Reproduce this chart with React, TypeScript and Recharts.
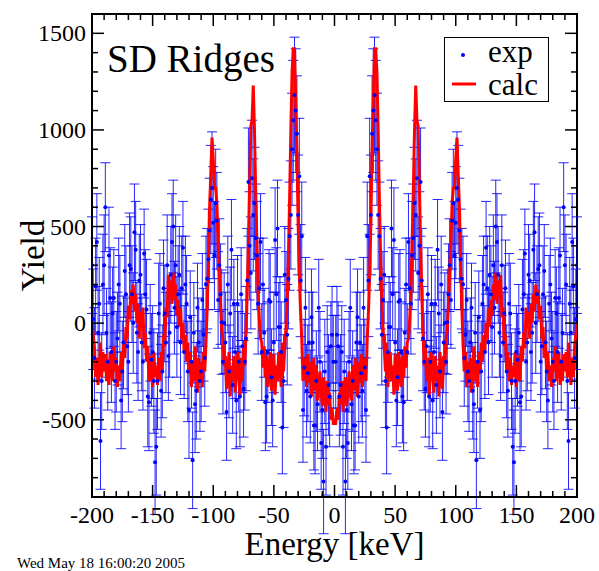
import {
  ComposedChart,
  Scatter,
  Line,
  XAxis,
  YAxis,
  ErrorBar,
  Legend,
  ReferenceArea,
} from 'recharts'

// the spectrum is mirror-symmetric around 0 keV: values are read for 1..200 keV
const ENERGY = [
  1, 2, 3, 4, 5, 6, 7, 8, 9, 10, 11, 12, 13, 14, 15, 16, 17, 18, 19, 20,
  21, 22, 23, 24, 25, 26, 27, 28, 29, 30, 31, 32, 33, 34, 35, 36, 37, 38, 39, 40,
  41, 42, 43, 44, 45, 46, 47, 48, 49, 50, 51, 52, 53, 54, 55, 56, 57, 58, 59, 60,
  61, 62, 63, 64, 65, 66, 67, 68, 69, 70, 71, 72, 73, 74, 75, 76, 77, 78, 79, 80,
  81, 82, 83, 84, 85, 86, 87, 88, 89, 90, 91, 92, 93, 94, 95, 96, 97, 98, 99, 100,
  101, 102, 103, 104, 105, 106, 107, 108, 109, 110, 111, 112, 113, 114, 115, 116, 117, 118, 119, 120,
  121, 122, 123, 124, 125, 126, 127, 128, 129, 130, 131, 132, 133, 134, 135, 136, 137, 138, 139, 140,
  141, 142, 143, 144, 145, 146, 147, 148, 149, 150, 151, 152, 153, 154, 155, 156, 157, 158, 159, 160,
  161, 162, 163, 164, 165, 166, 167, 168, 169, 170, 171, 172, 173, 174, 175, 176, 177, 178, 179, 180,
  181, 182, 183, 184, 185, 186, 187, 188, 189, 190, 191, 192, 193, 194, 195, 196, 197, 198, 199, 200,
]

const EXP = [
  -200, -60, -120, -380, -320, -150, -640, -250, -820, -450,
  -620, -200, 80, -420, -300, -530, -530, -100, 30, -380,
  -100, -260, -350, 80, -230, -450, 450, 220, 760, 560,
  980, 1100, 1180, 1050, 900, 560, 450, 230, -60, 120,
  250, -300, -540, -150, -20, -20, 490, 150, 430, -100,
  -400, -280, 110, 120, -150, -380, -410, -50, 200, -150,
  420, 180, 100, 350, 440, 620, 560, 750, 260, 400,
  730, 220, -80, -200, -340, -120, 150, -380, -200, 100,
  -400, -150, 100, -320, 380, 50, -250, 200, -460, -100,
  0, -200, 5, 150, 300, 120, 530, 620, 350, 520,
  700, 640, 480, 330, 230, 200, -180, -60, 120, -250,
  -300, -100, 80, -350, -420, -50, -710, -200, 30, -450,
  -250, 100, 200, -150, 390, 180, -100, 250, 150, -20,
  300, 80, 500, 420, 250, -50, -170, 300, -100, 50,
  180, -250, -350, 100, 50, -300, -640, -720, -300, -150,
  -190, -50, -410, -380, 70, 150, 360, -200, -100, 250,
  220, -150, -50, 380, 470, 0, 150, 280, 300, -200,
  -120, 150, 270, -100, -250, -400, 100, 200, -80, -200,
  -300, 130, 50, -150, 130, 350, -200, -50, 600, 300,
  200, -300, -610, 100, -50, 420, 190, -180, 20, 300,
]

const EXP_ERR = [
  240, 250, 230, 260, 260, 240, 250, 270, 270, 250,
  240, 260, 250, 240, 260, 250, 230, 260, 250, 240,
  260, 250, 240, 260, 250, 270, 280, 290, 300, 310,
  300, 320, 300, 310, 290, 280, 280, 260, 260, 250,
  250, 240, 240, 260, 260, 230, 250, 240, 270, 260,
  240, 250, 250, 260, 260, 240, 250, 230, 240, 250,
  250, 260, 260, 280, 280, 290, 290, 300, 290, 280,
  280, 270, 270, 250, 250, 240, 240, 260, 260, 250,
  250, 240, 230, 250, 260, 240, 240, 250, 250, 260,
  260, 270, 270, 260, 240, 250, 250, 280, 280, 290,
  290, 280, 270, 260, 260, 250, 250, 240, 240, 260,
  260, 230, 230, 250, 250, 260, 250, 240, 240, 250,
  260, 250, 250, 240, 240, 270, 270, 250, 250, 260,
  260, 240, 240, 250, 250, 230, 230, 260, 260, 250,
  250, 240, 240, 260, 260, 250, 250, 270, 270, 240,
  240, 250, 250, 260, 260, 230, 230, 250, 250, 260,
  240, 250, 260, 250, 250, 260, 250, 270, 270, 260,
  250, 250, 240, 240, 260, 250, 250, 240, 240, 260,
  250, 250, 240, 260, 260, 250, 250, 230, 230, 260,
  260, 250, 250, 240, 240, 250, 250, 260, 260, 250,
]

const CALC = [
  -520, -440, -500, -360, -420, -300, -460, -330, -280, -430,
  -360, -250, -330, -400, -220, -350, -180, -300, -380, -200,
  -310, -160, -330, -180, -220, -300, -80, 60, 250, 520,
  900, 1150, 1420, 1420, 1300, 1000, 650, 350, 120, -20,
  -120, -250, -100, -330, -200, -150, -300, -220, -370, -160,
  -280, -350, -150, -260, -330, -170, -280, -120, -230, -100,
  -80, 20, 150, 420, 680, 1000, 1230, 1050, 1020, 700,
  420, 150, -50, -220, -120, -300, -180, -380, -250, -150,
  -280, -360, -170, -300, -220, -380, -150, -260, -340, -170,
  -220, -80, -40, 100, 260, 420, 620, 700, 700, 850,
  960, 780, 600, 300, 80, -100, -250, -150, -330, -200,
  -300, -180, -360, -240, -120, -300, -200, -330, -150, -260,
  -100, -200, -60, -150, 0, -80, 80, -20, 120, 40,
  200, 120, 260, 100, 220, 150, 250, 30, 80, -120,
  -60, -250, -150, -300, -180, -320, -220, -280, -150, -330,
  -230, -170, -300, -120, -200, -50, -130, 80, -20, 60,
  -80, 100, 0, 150, 60, 200, 100, 170, 20, 90,
  -80, -20, -180, -100, -260, -150, -300, -220, -330, -180,
  -250, -120, -300, -200, -150, -320, -200, -300, -160, -250,
  -150, -280, -100, -250, -320, -180, -280, -120, -60, 0,
]

const X_TICKS = [
  -200, -190, -180, -170, -160, -150, -140, -130, -120, -110, -100, -90, -80, -70, -60,
  -50, -40, -30, -20, -10, 0, 10, 20, 30, 40, 50, 60, 70, 80, 90, 100, 110, 120, 130,
  140, 150, 160, 170, 180, 190, 200,
]
const Y_TICKS = [
  -900, -800, -700, -600, -500, -400, -300, -200, -100, 0, 100, 200, 300, 400, 500, 600,
  700, 800, 900, 1000, 1100, 1200, 1300, 1400, 1500, 1600,
]

const W = 599
const H = 571
const M = { top: 14, right: 22, bottom: 0, left: 0 }
const Y_AXIS_W = 92
const X_AXIS_H = 74
const PLOT_LEFT = M.left + Y_AXIS_W
const PLOT_RIGHT = W - M.right
const PLOT_TOP = M.top
const PLOT_BOTTOM = H - M.bottom - X_AXIS_H

const FONT = "'Liberation Serif', 'Times New Roman', serif"
const BLUE = '#0000ff'
const RED = '#ff0000'

const left = ENERGY.map((e, i) => ({
  x: -e,
  exp: EXP[i],
  err: EXP_ERR[i],
  calc: CALC[i],
})).reverse()
const right = ENERGY.map((e, i) => ({
  x: e,
  exp: EXP[i],
  err: EXP_ERR[i],
  calc: CALC[i],
}))
const data = [...left, ...right]

function XTick(props: any) {
  const { x, payload } = props
  const v = payload.value
  const major = v % 50 === 0
  const len = major ? 12 : 6
  return (
    <g>
      <line x1={x} x2={x} y1={PLOT_BOTTOM} y2={PLOT_BOTTOM - len} stroke='#000' strokeWidth={1.5} />
      <line x1={x} x2={x} y1={PLOT_TOP} y2={PLOT_TOP + len} stroke='#000' strokeWidth={1.5} />
      {major && (
        <text x={x} y={PLOT_BOTTOM + 26} textAnchor='middle' fontSize={24} style={{ fontFamily: FONT }} fill='#000'>
          {v}
        </text>
      )}
    </g>
  )
}

function YTick(props: any) {
  const { y, payload } = props
  const v = payload.value
  const major = v % 500 === 0
  const len = major ? 12 : 6
  return (
    <g>
      <line x1={PLOT_LEFT} x2={PLOT_LEFT + len} y1={y} y2={y} stroke='#000' strokeWidth={1.5} />
      <line x1={PLOT_RIGHT} x2={PLOT_RIGHT - len} y1={y} y2={y} stroke='#000' strokeWidth={1.5} />
      {major && (
        <text x={PLOT_LEFT - 6} y={y + 8} textAnchor='end' fontSize={24} style={{ fontFamily: FONT }} fill='#000'>
          {v}
        </text>
      )}
    </g>
  )
}

function LegendBox() {
  return (
    <svg width={106} height={66} style={{ display: 'block', overflow: 'visible' }}>
      <rect x={0.5} y={0.5} width={104} height={64} fill='#fff' stroke='#000' strokeWidth={1} />
      <circle cx={19} cy={18} r={2} fill={BLUE} />
      <text x={44} y={25} fontSize={31} style={{ fontFamily: FONT }} fill='#000'>exp</text>
      <line x1={8} x2={32} y1={47} y2={47} stroke={RED} strokeWidth={3} />
      <text x={44} y={58} fontSize={31} style={{ fontFamily: FONT }} fill='#000'>calc</text>
    </svg>
  )
}

export default function App() {
  return (
    <div style={{ position: 'absolute', left: 0, top: 0, width: W, height: H, background: '#fff', fontFamily: FONT }}>
      <ComposedChart width={W} height={H} data={data} margin={M}>
        <XAxis
          dataKey='x'
          type='number'
          domain={[-200, 200]}
          ticks={X_TICKS}
          interval={0}
          allowDataOverflow
          height={X_AXIS_H}
          tickLine={false}
          axisLine={{ stroke: '#000', strokeWidth: 2 }}
          tick={<XTick />}
          label={{
            value: 'Energy [keV]',
            position: 'insideBottom',
            offset: 16,
            style: { fontSize: 33, fontFamily: FONT, fill: '#000' },
          }}
        />
        <YAxis
          type='number'
          domain={[-900, 1600]}
          ticks={Y_TICKS}
          interval={0}
          allowDataOverflow
          width={Y_AXIS_W}
          tickLine={false}
          axisLine={{ stroke: '#000', strokeWidth: 2 }}
          tick={<YTick />}
          label={{
            value: 'Yield',
            angle: -90,
            position: 'insideLeft',
            offset: 32,
            style: { fontSize: 33, fontFamily: FONT, fill: '#000', textAnchor: 'middle' },
          }}
        />
        <ReferenceArea
          x1={-200}
          x2={200}
          y1={-900}
          y2={1600}
          fill='none'
          stroke='#000'
          strokeWidth={2}
          ifOverflow='visible'
        />
        <Scatter
          dataKey='exp'
          isAnimationActive={false}
          shape={(p: any) => <circle cx={p.cx} cy={p.cy} r={2} fill={BLUE} />}
        >
          <ErrorBar dataKey='err' direction='y' width={5} stroke={BLUE} strokeWidth={1} strokeOpacity={0.85} />
        </Scatter>
        <Line
          dataKey='calc'
          type='linear'
          stroke={RED}
          strokeWidth={3}
          dot={false}
          activeDot={false}
          isAnimationActive={false}
        />
        <Legend
          layout='vertical'
          align='center'
          verticalAlign='middle'
          content={() => <LegendBox />}
          wrapperStyle={{ position: 'absolute', left: 444, top: 37, width: 106, height: 66 }}
        />
      </ComposedChart>
      <svg
        width={W}
        height={H}
        style={{ position: 'absolute', left: 0, top: 0, pointerEvents: 'none' }}
      >
        <text x={107} y={72} fontSize={39} style={{ fontFamily: FONT }} fill='#000'>SD Ridges</text>
        <text x={17} y={568} fontSize={15} style={{ fontFamily: FONT }} fill='#000'>Wed May 18 16:00:20 2005</text>
      </svg>
    </div>
  )
}
